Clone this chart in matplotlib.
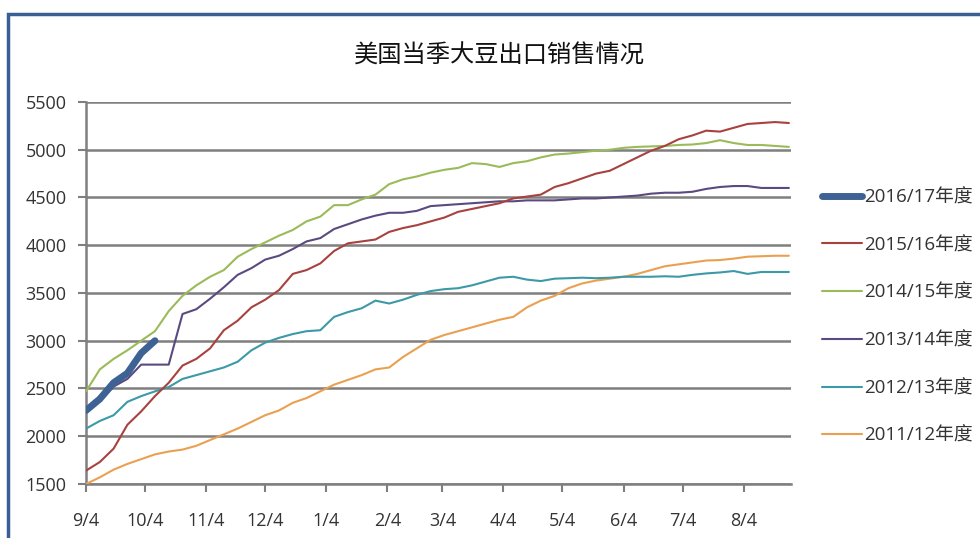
import matplotlib.pyplot as plt
from matplotlib.patches import Rectangle

plt.rcParams['font.family'] = ['Open Sans', 'Noto Sans CJK SC', 'DejaVu Sans']

title = "美国当季大豆出口销售情况"

# weekly cumulative sales, one point every 7 days starting at 9/4
s2016 = [2270, 2390, 2560, 2660, 2870, 3000]
s2015 = [1640, 1730, 1870, 2120, 2260, 2420, 2560, 2740, 2810, 2920,
         3110, 3210, 3350, 3430, 3530, 3700, 3740, 3810, 3940, 4020,
         4040, 4060, 4140, 4180, 4210, 4250, 4290, 4350, 4380, 4410,
         4440, 4490, 4510, 4530, 4610, 4650, 4700, 4750, 4780, 4850,
         4920, 4990, 5040, 5110, 5150, 5200, 5190, 5230, 5270, 5280,
         5290, 5280]
s2014 = [2470, 2700, 2810, 2900, 3000, 3100, 3310, 3470, 3580, 3670,
         3740, 3880, 3960, 4030, 4100, 4160, 4250, 4300, 4420, 4420,
         4480, 4530, 4640, 4690, 4720, 4760, 4790, 4810, 4860, 4850,
         4820, 4860, 4880, 4920, 4950, 4960, 4975, 4990, 5000, 5020,
         5030, 5035, 5040, 5050, 5055, 5070, 5100, 5070, 5050, 5050,
         5040, 5030]
s2013 = [2250, 2370, 2520, 2600, 2750, 2750, 2750, 3280, 3330, 3440,
         3560, 3690, 3760, 3850, 3890, 3960, 4040, 4075, 4170, 4220,
         4270, 4310, 4340, 4340, 4360, 4410, 4420, 4430, 4440, 4450,
         4460, 4460, 4470, 4470, 4470, 4480, 4490, 4490, 4500, 4510,
         4520, 4540, 4550, 4550, 4560, 4590, 4610, 4620, 4620, 4600,
         4600, 4600]
s2012 = [2080, 2160, 2220, 2360, 2420, 2470, 2515, 2600, 2640, 2680,
         2720, 2780, 2900, 2980, 3030, 3070, 3100, 3110, 3250, 3300,
         3340, 3420, 3390, 3430, 3480, 3520, 3540, 3550, 3580, 3620,
         3660, 3670, 3640, 3625, 3650, 3655, 3660, 3655, 3660, 3670,
         3670, 3670, 3675, 3670, 3690, 3705, 3715, 3730, 3700, 3720,
         3720, 3720]
s2011 = [1500, 1570, 1650, 1710, 1760, 1810, 1840, 1860, 1900, 1960,
         2020, 2080, 2150, 2220, 2270, 2350, 2400, 2470, 2540, 2590,
         2640, 2700, 2720, 2830, 2920, 3010, 3060, 3100, 3140, 3180,
         3220, 3250, 3350, 3420, 3470, 3550, 3600, 3630, 3650, 3670,
         3700, 3740, 3780, 3800, 3820, 3840, 3845, 3860, 3880, 3885,
         3890, 3890]

labels = ["2016/17年度", "2015/16年度", "2014/15年度",
          "2013/14年度", "2012/13年度", "2011/12年度"]
tick_days = [0, 30, 61, 91, 122, 153, 181, 212, 242, 273, 303, 334]
tick_labels = ["9/4", "10/4", "11/4", "12/4", "1/4", "2/4",
               "3/4", "4/4", "5/4", "6/4", "7/4", "8/4"]

fig = plt.figure(figsize=(9.8, 5.38), dpi=100)
ax = fig.add_axes([0.0878, 0.1004, 0.7192, 0.71])

series = [s2016, s2015, s2014, s2013, s2012, s2011]
colors = ["#3d6293", "#a8423f", "#9bbb59", "#5b4a80", "#3c9aa8", "#eaa050"]
widths = [5, 1.5, 1.5, 1.5, 1.5, 1.5]
handles = []
for i in range(5, -1, -1):
    x = [7 * k for k in range(len(series[i]))]
    ln, = ax.plot(x, series[i], color=colors[i], lw=widths[i],
                  solid_capstyle="round", label=labels[i], zorder=3 + (i == 0))
    handles.insert(0, ln)

ax.set_xlim(0, 358)
ax.set_ylim(1500, 5500)
ax.set_yticks(range(1500, 5501, 500))
ax.set_xticks(tick_days)
ax.set_xticklabels(tick_labels)
ax.grid(axis="y", color="#7f7f7f", lw=1.8)
ax.set_axisbelow(True)
for s in ["top", "right"]:
    ax.spines[s].set_visible(False)
for s in ["left", "bottom"]:
    ax.spines[s].set_color("#7f7f7f")
    ax.spines[s].set_linewidth(1.8)
ax.tick_params(axis="both", colors="#7f7f7f", width=1.5, length=6,
               labelcolor="#333333", labelsize=13)
ax.tick_params(axis="x", pad=14)
ax.tick_params(axis="y", pad=8)

fig.text(0.51, 0.897, title, ha="center", va="center", fontsize=17.5,
         family=["Noto Sans CJK SC", "DejaVu Sans"], weight="medium",
         color="#111111")

leg = ax.legend(handles=handles, loc="upper left", bbox_to_anchor=(1.044, 0.774),
                frameon=False, fontsize=13.5, labelspacing=1.585,
                handlelength=2.13, handletextpad=0.15, borderaxespad=0,
                borderpad=0)
for t in leg.get_texts():
    t.set_color("#333333")

fig.patches.append(Rectangle((8 / 980, -0.01), 1.0, 1 - 14 / 538 + 0.01,
                             transform=fig.transFigure, fill=False,
                             edgecolor="#3a5f96", lw=2.5))

fig.savefig("out.png", dpi=100, facecolor="white")
